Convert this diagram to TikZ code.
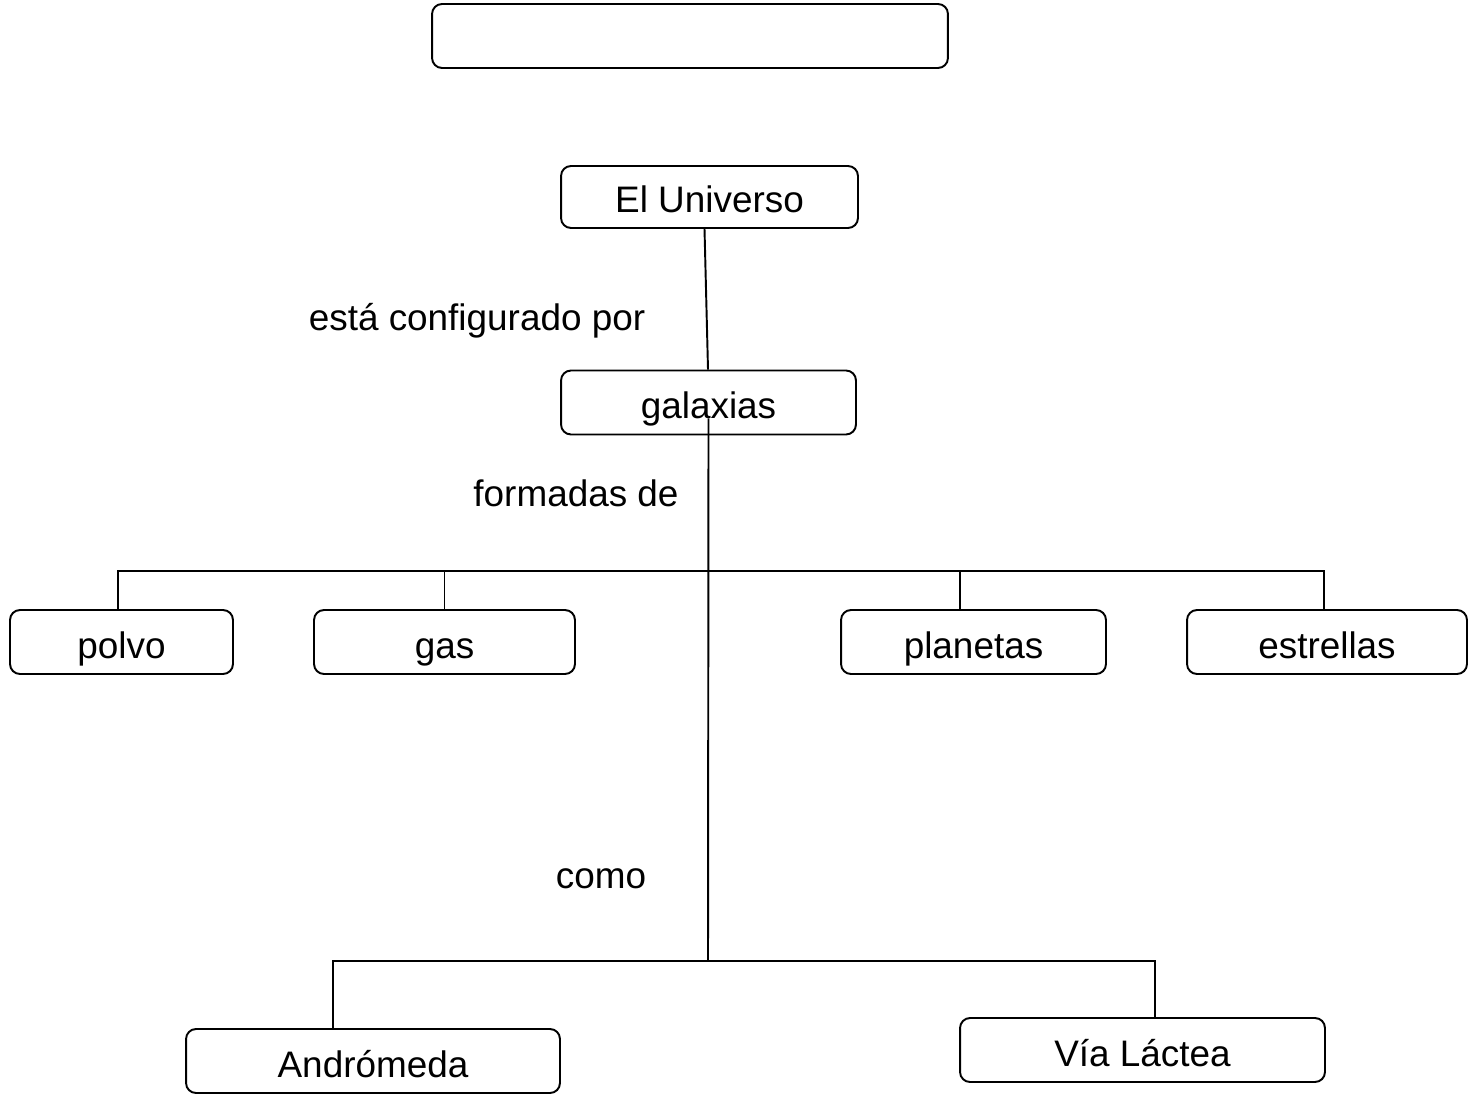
\documentclass[tikz,border=0pt]{standalone}
\usepackage{fontspec}
\setmainfont{Liberation Sans}
\tikzset{
  caja/.style={draw, line width=1.1pt, rounded corners=0.2cm, inner sep=0pt,
    minimum height=1.28cm, text height=0.64cm, text depth=0pt,
    font=\fontsize{21}{25}\selectfont},
  enlace/.style={font=\fontsize{21}{25}\selectfont, inner sep=0pt},
  rama/.style={line width=1.1pt}
}
\begin{document}
\begin{tikzpicture}[x=0.02cm,y=-0.02cm]
  \useasboundingbox (0,0) rectangle (1469,1094);
  % cajas
  \node[caja, minimum width=10.32cm] (titulo) at (690,36) {};
  \node[caja, minimum width=5.94cm, minimum height=1.24cm] (univ) at (709.5,197) {El Universo};
  \node[caja, minimum width=5.9cm] (gal) at (708.5,402.5) {galaxias};
  \node[caja, minimum width=4.46cm] (polvo) at (121.5,642) {polvo};
  \node[caja, minimum width=5.22cm] (gas) at (444.5,642) {gas};
  \node[caja, minimum width=5.3cm] (planetas) at (973.5,642) {planetas};
  \node[caja, minimum width=5.6cm] (estrellas) at (1327,642) {estrellas};
  \node[caja, minimum width=7.48cm] (andro) at (373,1061) {Andrómeda};
  \node[caja, minimum width=7.3cm] (via) at (1142.5,1050) {Vía Láctea};
  % textos de enlace
  \node[enlace] (configurado) at (477,321) {está configurado por};
  \node[enlace] (formadas) at (576,493) {formadas de};
  \node[enlace] (como) at (601,879) {como};
  % conectores
  \coordinate (nudo1) at (708,571);
  \coordinate (nudo2) at (708,961);
  \draw[rama] ([xshift=-0.1cm]univ.south) -- ([xshift=-0.01cm]gal.north);
  \draw[rama] ([yshift=-0.32cm]gal.center) -- (nudo2);
  \draw[rama] ([xshift=-0.07cm]polvo.north) |- ([xshift=-0.06cm]estrellas.north |- nudo1)
    -- ([xshift=-0.06cm]estrellas.north);
  \draw[rama] (gas.north) -- (gas.north |- nudo1);
  \draw[rama] ([xshift=-0.27cm]planetas.north) -- ([xshift=-0.27cm]planetas.north |- nudo1);
  \draw[rama] ([xshift=-0.8cm]andro.north) |- (nudo2) -| ([xshift=0.25cm]via.north);
\end{tikzpicture}
\end{document}
